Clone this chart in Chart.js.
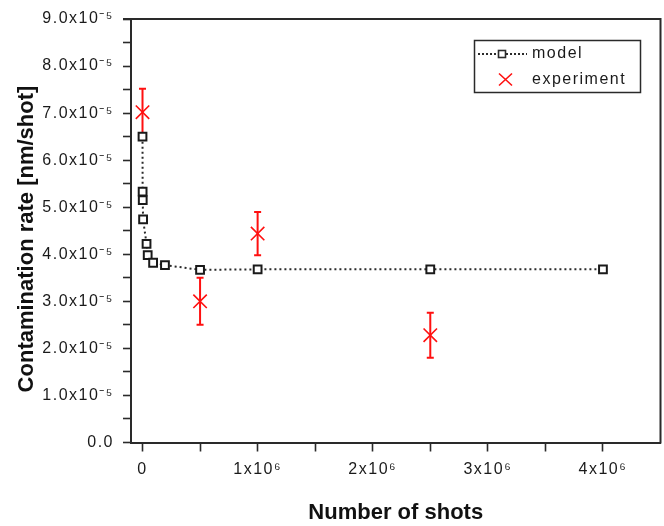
<!DOCTYPE html>
<html><head><meta charset="utf-8">
<script src="https://cdn.jsdelivr.net/npm/chart.js@4.4.1/dist/chart.umd.min.js"></script>
<style>html,body{margin:0;padding:0;background:#fff;}#wrap{width:664px;height:526px;}</style>
</head><body><div id="wrap"><canvas id="c" width="664" height="526"></canvas></div>
<script>
// ---- data ----
const modelShots = [0, 1000, 2000, 5000, 35000, 45000, 92000, 195000, 500000, 1000000, 2500000, 4000000];
const modelRate  = [6.50e-5, 5.33e-5, 5.15e-5, 4.74e-5, 4.22e-5, 3.98e-5, 3.82e-5, 3.77e-5, 3.67e-5, 3.68e-5, 3.68e-5, 3.68e-5];
const expShots = [0, 500000, 1000000, 2500000];
const expRate  = [7.02e-5, 3.00e-5, 4.44e-5, 2.28e-5];
const expErr   = [0.50e-5, 0.50e-5, 0.46e-5, 0.48e-5];
const xTickValues = [0, 500000, 1000000, 1500000, 2000000, 2500000, 3000000, 3500000, 4000000];
const xTickLabels = ['0', '', '1x10⁶', '', '2x10⁶', '', '3x10⁶', '', '4x10⁶'];
const yTickLabels = ['0.0', '1.0x10⁻⁵', '2.0x10⁻⁵', '3.0x10⁻⁵', '4.0x10⁻⁵', '5.0x10⁻⁵', '6.0x10⁻⁵', '7.0x10⁻⁵', '8.0x10⁻⁵', '9.0x10⁻⁵'];
const seriesNames = ['model', 'experiment'];
const xTitle = 'Number of shots';
const yTitle = 'Contamination rate [nm/shot]';

const AXIS = '#2a2a2a';
const RED = '#ff1010';
const FONT = 'Liberation Sans, Arial, sans-serif';

const frameAndExtras = {
  id: 'frameAndExtras',
  beforeDraw(chart) {
    Object.values(chart.scales).forEach(s => {
      if (!s._wrappedLabels) {
        const orig = s.drawLabels;
        s.drawLabels = function (a) {
          const c = this.ctx; const prev = c.letterSpacing;
          c.letterSpacing = '1.5px';
          orig.call(this, a);
          c.letterSpacing = prev || '0px';
        };
        s._wrappedLabels = true;
      }
    });
  },
  beforeDatasetsDraw(chart) {
    const ctx = chart.ctx, xs = chart.scales.x, ys = chart.scales.y;
    ctx.save();
    ctx.strokeStyle = RED; ctx.lineWidth = 2;
    for (let i = 0; i < expShots.length; i++) {
      const x = xs.getPixelForValue(expShots[i]);
      const yt = ys.getPixelForValue(expRate[i] + expErr[i]);
      const yb = ys.getPixelForValue(expRate[i] - expErr[i]);
      ctx.beginPath();
      ctx.moveTo(x, yt); ctx.lineTo(x, yb);
      ctx.moveTo(x - 3.5, yt); ctx.lineTo(x + 3.5, yt);
      ctx.moveTo(x - 3.5, yb); ctx.lineTo(x + 3.5, yb);
      ctx.stroke();
    }
    ctx.restore();
  },
  afterDraw(chart) {
    const ctx = chart.ctx, a = chart.chartArea;
    ctx.save();
    // top and right frame
    ctx.strokeStyle = AXIS; ctx.lineWidth = 2;
    ctx.beginPath();
    ctx.moveTo(a.left - 8, a.top); ctx.lineTo(a.right, a.top); ctx.lineTo(a.right, a.bottom + 1);
    ctx.stroke();
    // y axis title
    ctx.save();
    ctx.translate(27, 239);
    ctx.rotate(-Math.PI / 2);
    ctx.fillStyle = '#111';
    ctx.font = 'bold 22px ' + FONT;
    ctx.textAlign = 'center'; ctx.textBaseline = 'middle';
    ctx.fillText(yTitle, 0, 0);
    ctx.restore();
    // legend
    const bx = 474.5, by = 40.5, bw = 166, bh = 52;
    ctx.fillStyle = '#fff';
    ctx.fillRect(bx, by, bw, bh);
    ctx.lineWidth = 1.5; ctx.strokeStyle = AXIS;
    ctx.strokeRect(bx, by, bw, bh);
    const r1 = 54, r2 = 79.5;
    ctx.setLineDash([2, 2]); ctx.lineWidth = 2;
    ctx.beginPath(); ctx.moveTo(478, r1); ctx.lineTo(527, r1); ctx.stroke();
    ctx.setLineDash([]);
    ctx.fillStyle = '#fff'; ctx.fillRect(498.5, r1 - 3.5, 7, 7);
    ctx.lineWidth = 1.6; ctx.strokeRect(498.5, r1 - 3.5, 7, 7);
    ctx.strokeStyle = RED; ctx.lineWidth = 1.6;
    ctx.beginPath();
    ctx.moveTo(499, r2 - 6); ctx.lineTo(512, r2 + 6);
    ctx.moveTo(512, r2 - 6); ctx.lineTo(499, r2 + 6);
    ctx.stroke();
    ctx.fillStyle = '#1a1a1a';
    ctx.font = '16px ' + FONT;
    ctx.textBaseline = 'middle'; ctx.textAlign = 'left';
    ctx.letterSpacing = '1.5px';
    ctx.fillText(seriesNames[0], 532, r1);
    ctx.fillText(seriesNames[1], 532, r2);
    ctx.letterSpacing = '0px';
    ctx.restore();
  }
};

new Chart(document.getElementById('c'), {
  type: 'scatter',
  data: {
    datasets: [
      {
        label: seriesNames[0],
        data: modelShots.map((x, i) => ({ x, y: modelRate[i] })),
        showLine: true,
        borderColor: AXIS, borderWidth: 2, borderDash: [2, 3],
        pointStyle: 'rect', pointRadius: 5.5, pointBorderWidth: 2,
        pointBackgroundColor: '#fff', pointBorderColor: '#1a1a1a',
        tension: 0
      },
      {
        label: seriesNames[1],
        data: expShots.map((x, i) => ({ x, y: expRate[i] })),
        showLine: false,
        pointStyle: 'crossRot', pointRadius: 9.5, pointBorderWidth: 1.6,
        pointBorderColor: RED, pointBackgroundColor: RED
      }
    ]
  },
  options: {
    responsive: false, animation: false, devicePixelRatio: 1,
    layout: { autoPadding: false, padding: { top: 19, right: 3.5, left: 0, bottom: 0 } },
    plugins: { legend: { display: false }, tooltip: { enabled: false } },
    scales: {
      x: {
        type: 'linear', min: -1e5, max: 4.5e6, bounds: 'data',
        afterBuildTicks: s => { s.ticks = xTickValues.map(v => ({ value: v })); },
        afterFit: s => { s.height = 83.5; s.paddingLeft = 0; s.paddingRight = 0; },
        ticks: {
          autoSkip: false, maxRotation: 0,
          padding: 8, color: '#1a1a1a', font: { family: FONT, size: 16 },
          callback: v => { const i = xTickValues.indexOf(v); return i < 0 ? '' : xTickLabels[i]; }
        },
        grid: { display: true, drawOnChartArea: false, drawTicks: true, tickLength: 9, tickColor: AXIS, tickWidth: 1.6 },
        border: { display: true, color: AXIS, width: 2 },
        title: { display: true, text: xTitle, color: '#111', font: { family: FONT, size: 22, weight: 'bold' }, padding: { top: 0, bottom: 0 } }
      },
      y: {
        type: 'linear', min: 0, max: 9e-5, bounds: 'data',
        afterFit: s => { s.width = 131; s.paddingTop = 0; s.paddingBottom = 0; },
        ticks: {
          stepSize: 0.5e-5, autoSkip: false, padding: 9, color: '#1a1a1a', font: { family: FONT, size: 16 },
          callback: v => { const k = Math.round(v * 2e5); return k % 2 ? '' : yTickLabels[k / 2]; }
        },
        grid: { display: true, drawOnChartArea: false, drawTicks: true, tickLength: 8, tickColor: AXIS, tickWidth: 1.6 },
        border: { display: true, color: AXIS, width: 2 },
        title: { display: false }
      }
    }
  },
  plugins: [frameAndExtras]
});
</script>
</body></html>
